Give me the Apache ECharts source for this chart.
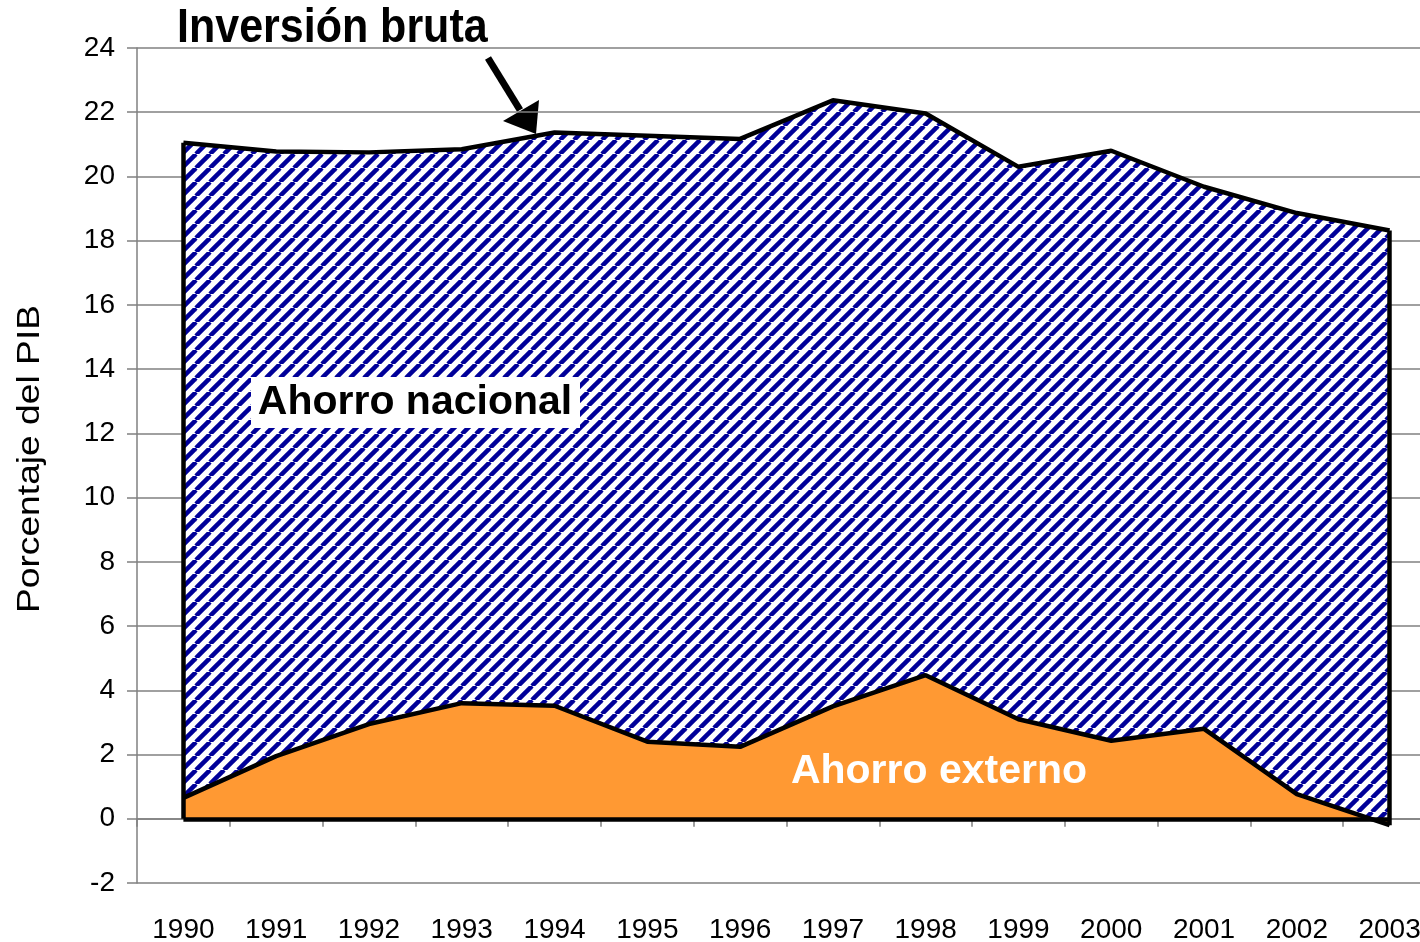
<!DOCTYPE html>
<html>
<head>
<meta charset="utf-8">
<script src="https://cdn.jsdelivr.net/npm/echarts@6/dist/echarts.min.js"></script>
<style>
    html, body { margin: 0; padding: 0; background: #fff; }
    #chart { width: 1420px; height: 942px; }
</style>
</head>
<body>
<div id="chart"></div>
<script>
const years = ['1990', '1991', '1992', '1993', '1994', '1995', '1996', '1997', '1998', '1999', '2000', '2001', '2002', '2003']
// Inversión bruta (línea superior), % del PIB
const inversionBruta = [21.05, 20.78, 20.75, 20.85, 21.37, 21.27, 21.17, 22.37, 21.96, 20.3, 20.8, 19.68, 18.86, 18.32]
// Ahorro externo (área naranja), % del PIB
const ahorroExterno = [0.65, 1.95, 2.95, 3.6, 3.52, 2.4, 2.24, 3.5, 4.47, 3.1, 2.43, 2.8, 0.77, -0.2]
// Ahorro nacional = inversión bruta - ahorro externo
const ahorroNacional = inversionBruta.map((v, i) => +(v - ahorroExterno[i]).toFixed(2))

const FONT = 'Liberation Sans, Arial, sans-serif'

function makeHatch() {
    const p = 14
    const c = document.createElement('canvas')
    c.width = p
    c.height = p
    const ctx = c.getContext('2d')
    ctx.fillStyle = '#ffffff'
    ctx.fillRect(0, 0, p, p)
    ctx.strokeStyle = '#000099'
    ctx.lineWidth = 4.5
    for (let x = -p; x <= p; x += p) {
        ctx.beginPath()
        ctx.moveTo(x, p)
        ctx.lineTo(x + p, 0)
        ctx.stroke()
    }
    return c
}

const myChart = echarts.init(document.getElementById('chart'))
const last = years.length - 1

const option = {
    animation: false,
    backgroundColor: '#fff',
    grid: {
        left: 137,
        top: 48,
        bottom: 59,
        right: -16,
        outerBoundsMode: 'none',
    },
    xAxis: [
        {
            type: 'category',
            data: years,
            boundaryGap: true,
            axisLine: { onZero: true, lineStyle: { color: '#808080', width: 1.5 } },
            axisTick: { show: true, length: 8, lineStyle: { color: '#808080', width: 1.5 } },
            axisLabel: { show: false },
            splitLine: { show: false },
        },
        {
            type: 'category',
            data: years,
            position: 'bottom',
            boundaryGap: true,
            axisLine: { show: false, onZero: false },
            axisTick: { show: false },
            axisLabel: { color: '#000', fontFamily: FONT, fontSize: 28, margin: 33 },
            splitLine: { show: false },
        },
    ],
    yAxis: {
        type: 'value',
        min: -2,
        max: 24,
        interval: 2,
        axisLine: { show: true, lineStyle: { color: '#808080', width: 1.5 } },
        axisTick: { show: true, length: 10, lineStyle: { color: '#808080', width: 1.5 } },
        axisLabel: { color: '#000', fontFamily: FONT, fontSize: 28, margin: 22 },
        splitLine: { show: true, lineStyle: { color: '#808080', width: 1.5 } },
    },
    series: [
        {
            name: 'Ahorro externo',
            type: 'line',
            stack: 'total',
            stackStrategy: 'all',
            data: ahorroExterno,
            showSymbol: false,
            symbol: 'none',
            lineStyle: { color: '#000', width: 4.5 },
            areaStyle: { color: '#FF9933', opacity: 1 },
            z: 3,
            markLine: {
                silent: true,
                symbol: 'none',
                label: { show: false },
                lineStyle: { color: '#000', width: 4.5, type: 'solid' },
                data: [
                    [{ coord: [years[0], 0] }, { coord: [years[last], 0] }],
                    [{ coord: [years[0], Math.min(0, ahorroExterno[0])] }, { coord: [years[0], inversionBruta[0]] }],
                    [{ coord: [years[last], Math.min(0, ahorroExterno[last])] }, { coord: [years[last], inversionBruta[last]] }],
                ],
            },
        },
        {
            name: 'Ahorro nacional',
            type: 'line',
            stack: 'total',
            stackStrategy: 'all',
            data: ahorroNacional,
            showSymbol: false,
            symbol: 'none',
            lineStyle: { color: '#000', width: 4.5 },
            areaStyle: { color: { image: makeHatch(), repeat: 'repeat' }, opacity: 1 },
            z: 2,
        },
    ],
    graphic: [
        {
            type: 'text',
            x: 177,
            y: 29,
            scaleY: 1.1,
            style: { text: 'Inversión bruta', font: 'bold 43px ' + FONT, fill: '#000', align: 'left', verticalAlign: 'middle' },
        },
        {
            type: 'line',
            shape: { x1: 488, y1: 58, x2: 520, y2: 110 },
            style: { stroke: '#000', lineWidth: 7 },
        },
        {
            type: 'polygon',
            shape: { points: [[536, 134], [503, 121], [539, 100]] },
            style: { fill: '#000' },
        },
        {
            type: 'rect',
            shape: { x: 251, y: 377, width: 329, height: 51 },
            style: { fill: '#fff' },
            z: 10,
        },
        {
            type: 'text',
            x: 415,
            y: 403,
            style: { text: 'Ahorro nacional', font: 'bold 41px ' + FONT, fill: '#000', align: 'center', verticalAlign: 'middle' },
            z: 11,
        },
        {
            type: 'text',
            x: 939,
            y: 772,
            style: { text: 'Ahorro externo', font: 'bold 41px ' + FONT, fill: '#fff', align: 'center', verticalAlign: 'middle' },
            z: 11,
        },
        {
            type: 'text',
            x: 30,
            y: 459,
            rotation: Math.PI / 2,
            scaleX: 1.2,
            style: { text: 'Porcentaje del PIB', font: '31px ' + FONT, fill: '#000', align: 'center', verticalAlign: 'middle' },
        },
    ],
}

myChart.setOption(option)
</script>
</body>
</html>
